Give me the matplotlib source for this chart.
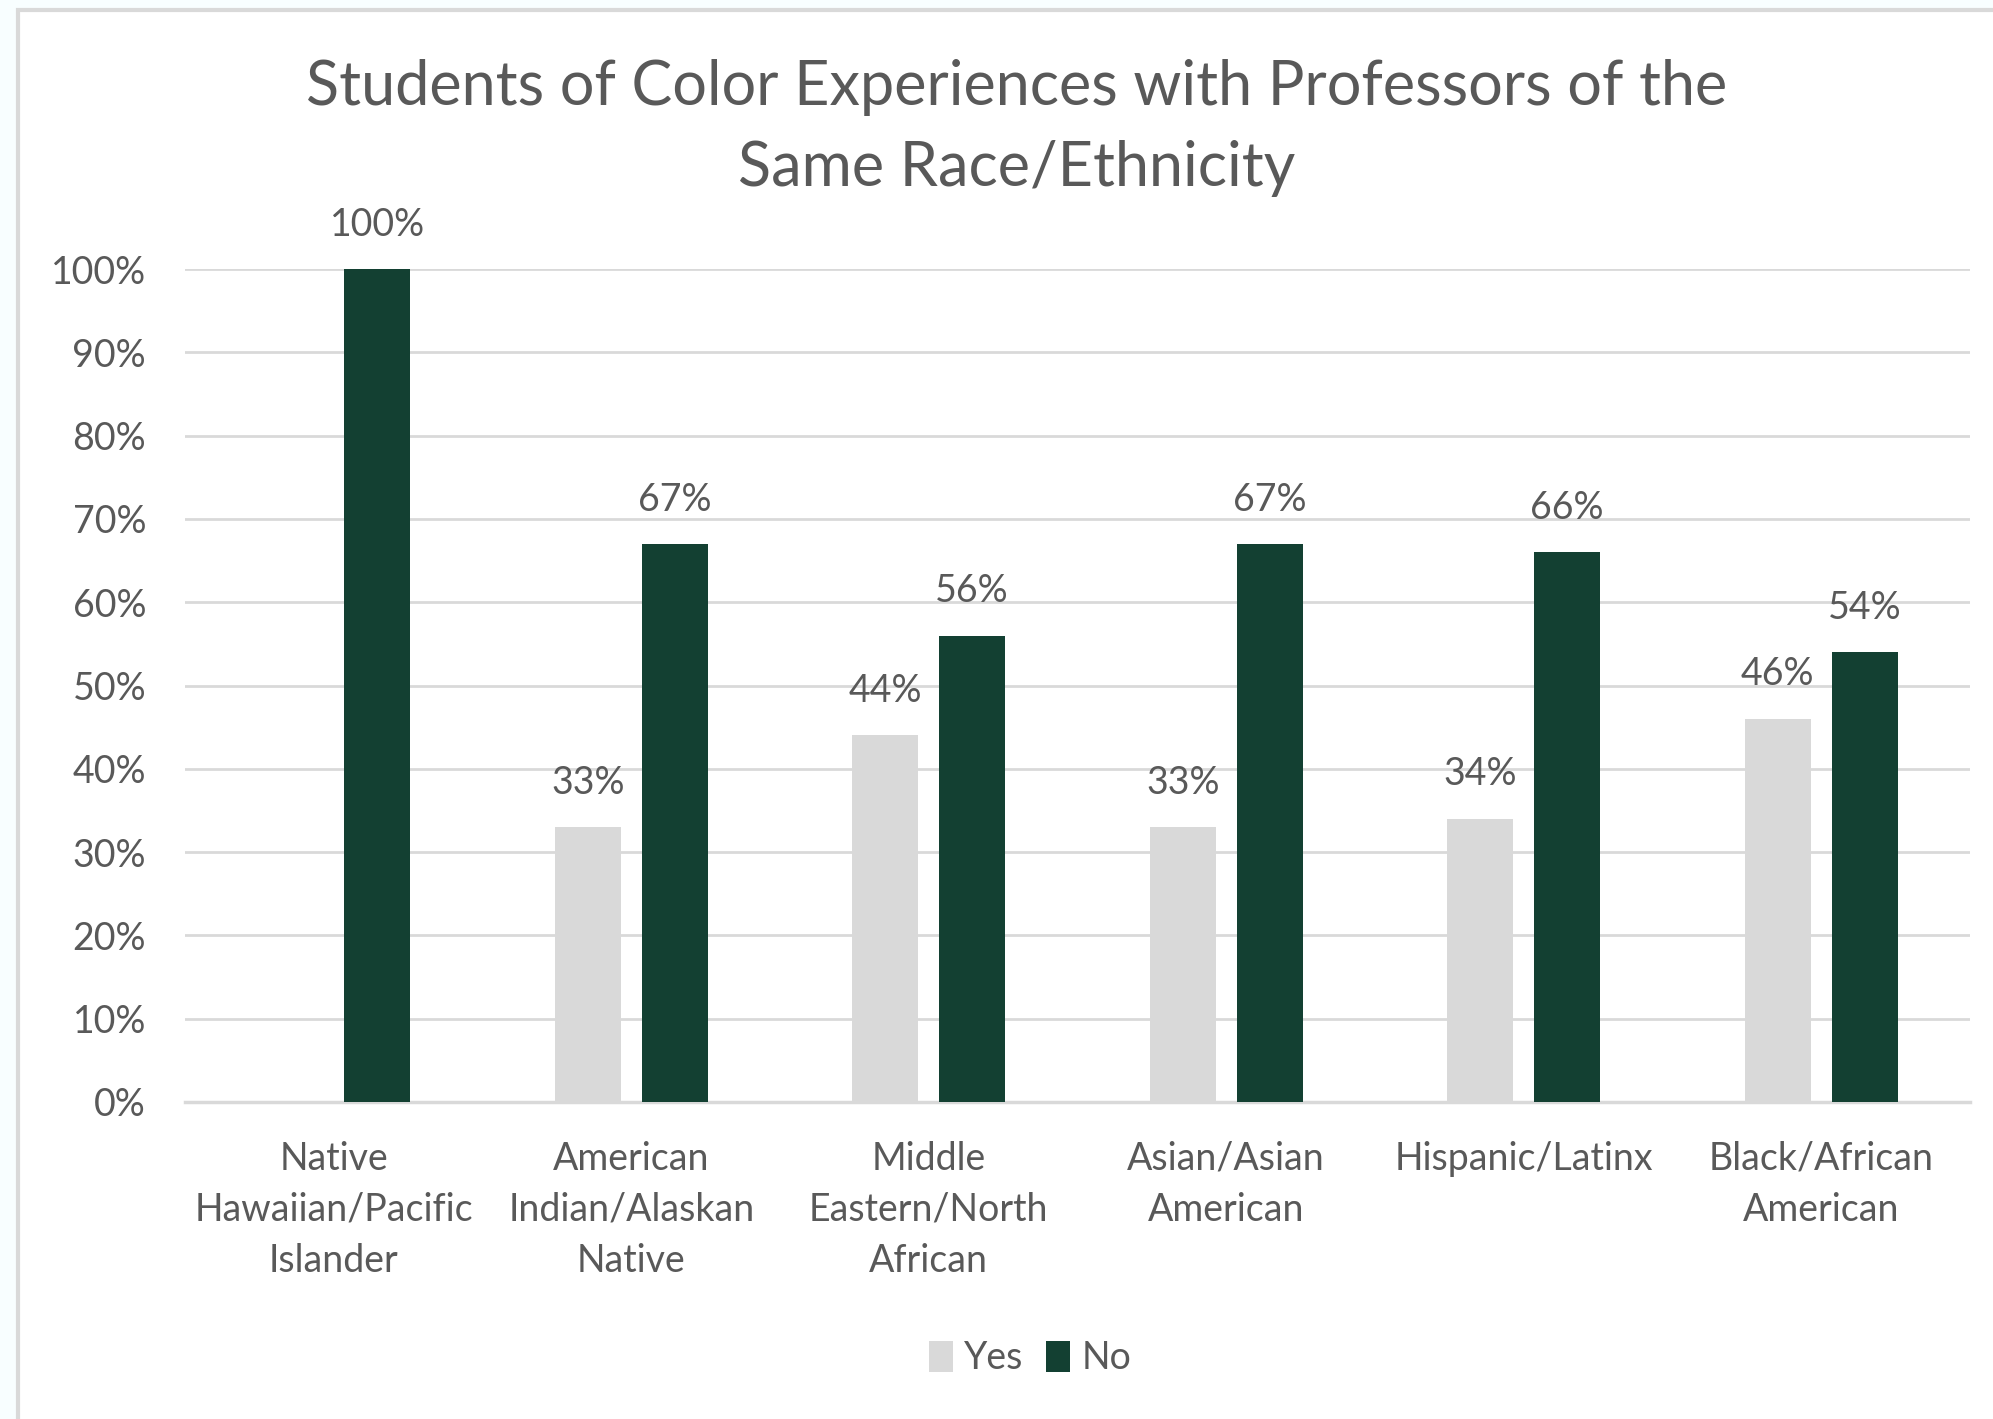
import numpy as np
import matplotlib
matplotlib.use("Agg")
import matplotlib.pyplot as plt
from matplotlib.patches import Rectangle

plt.rcParams['font.family'] = ['Lato', 'DejaVu Sans']

categories = ["Native\nHawaiian/Pacific\nIslander", "American\nIndian/Alaskan\nNative",
              "Middle\nEastern/North\nAfrican", "Asian/Asian\nAmerican",
              "Hispanic/Latinx", "Black/African\nAmerican"]
yes_vals = [None, 0.33, 0.44, 0.33, 0.34, 0.46]
no_vals = [1.00, 0.67, 0.56, 0.67, 0.66, 0.54]
y_ticks = np.arange(0, 1.01, 0.1)

grey_txt = "#595959"
yes_col = "#D9D9D9"
no_col = "#134032"
grid_col = "#D9D9D9"

fig = plt.figure(figsize=(19.93, 14.19), dpi=100)
fig.patch.set_facecolor("#F8FEFF")

# chart area box with the light border (only top/left edges show)
fig.patches.append(Rectangle((18 / 1993, -0.1), 1.2, (1419 - 10) / 1419 + 0.1,
                             transform=fig.transFigure, facecolor="white",
                             edgecolor="#D9D9D9", linewidth=3, zorder=-5))

ax = fig.add_axes([185 / 1993, 317 / 1419, (1970 - 185) / 1993, (1102 - 269) / 1419])
ax.set_facecolor("none")

x = np.arange(len(categories))
w = 0.222
off = 0.146

yes_plot = [v if v is not None else 0 for v in yes_vals]
b_yes = ax.bar(x - off, yes_plot, w, color=yes_col, label="Yes", zorder=3)
b_no = ax.bar(x + off, no_vals, w, color=no_col, label="No", zorder=3)

yes_lbls = ["" if v is None else f"{round(v * 100)}%" for v in yes_vals]
no_lbls = [f"{round(v * 100)}%" for v in no_vals]
ax.bar_label(b_yes, labels=yes_lbls, padding=19, fontsize=27, color=grey_txt)
ax.bar_label(b_no, labels=no_lbls, padding=19, fontsize=27, color=grey_txt)

ax.set_xlim(-0.5, len(categories) - 0.5)
ax.set_ylim(0, 1.0)
ax.set_yticks(y_ticks)
ax.set_yticklabels([f"{int(round(t * 100))}%" for t in y_ticks], fontsize=27, color=grey_txt)
ax.set_xticks(x)
ax.set_xticklabels(categories, fontsize=27, color=grey_txt, linespacing=1.52)
ax.tick_params(axis="both", length=0)
ax.tick_params(axis="y", pad=28)
ax.tick_params(axis="x", pad=28)
ax.grid(axis="y", color=grid_col, linewidth=2, zorder=0)
ax.set_axisbelow(True)
for s in ["top", "right", "left"]:
    ax.spines[s].set_visible(False)
ax.spines["bottom"].set_color(grid_col)
ax.spines["bottom"].set_linewidth(2.5)

fig.text(1017 / 1993, 1 - 128 / 1419,
         "Students of Color Experiences with Professors of the\nSame Race/Ethnicity",
         ha="center", va="center", fontsize=44, color=grey_txt, linespacing=1.54)

fig.legend(handles=[b_yes, b_no], labels=["Yes", "No"], loc="center",
           bbox_to_anchor=(1030 / 1993, 61 / 1419), ncol=2, frameon=False,
           fontsize=27, labelcolor=grey_txt, handlelength=0.65, handleheight=0.9,
           handletextpad=0.3, columnspacing=0.6)

fig.savefig("out.png", dpi=100, facecolor=fig.get_facecolor())
